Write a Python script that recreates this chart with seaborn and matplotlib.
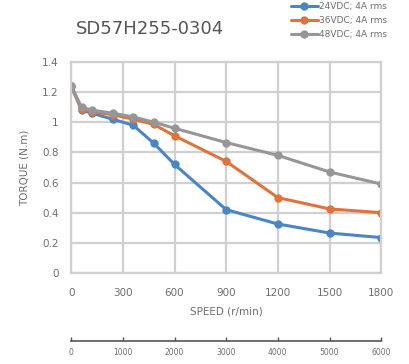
"""
Torque / speed curve for the SD57H255-0304 stepper motor.
Saves out.png (409x364 px).
"""

import numpy as np
import pandas as pd
import matplotlib
matplotlib.use("Agg")
import matplotlib.pyplot as plt
import seaborn as sns

# ── data ──────────────────────────────────────────────────────────────────────
SPEED_RPM = [0, 60, 120, 240, 360, 480, 600, 900, 1200, 1500, 1800]

TORQUE_24V = [1.24, 1.08, 1.06, 1.02, 0.98, 0.86, 0.72, 0.42, 0.325, 0.265, 0.235]
TORQUE_36V = [1.24, 1.09, 1.07, 1.05, 1.02, 0.985, 0.91, 0.74, 0.50, 0.425, 0.40]
TORQUE_48V = [1.24, 1.10, 1.08, 1.06, 1.035, 1.00, 0.96, 0.865, 0.78, 0.67, 0.59]

SERIES_LABELS = ["24VDC; 4A rms", "36VDC; 4A rms", "48VDC; 4A rms"]
X_TICKS = [0, 300, 600, 900, 1200, 1500, 1800]
Y_TICKS = [0, 0.2, 0.4, 0.6, 0.8, 1.0, 1.2, 1.4]
Y_TICK_LABELS = ["0", "0.2", "0.4", "0.6", "0.8", "1", "1.2", "1.4"]
PPS_TICKS = [0, 1000, 2000, 3000, 4000, 5000, 6000]

COLORS = ["#4a86c5", "#e0733c", "#969696"]
TEXT_GREY = "#6e6e6e"
GRID_GREY = "#d0d0d0"

# ── long table for seaborn ────────────────────────────────────────────────────
df = pd.concat(
    [
        pd.DataFrame({"speed": SPEED_RPM, "torque": vals, "series": lab})
        for vals, lab in zip([TORQUE_24V, TORQUE_36V, TORQUE_48V], SERIES_LABELS)
    ],
    ignore_index=True,
)

sns.set_style("white")
plt.rcParams["font.family"] = ["DejaVu Sans"]

fig = plt.figure(figsize=(4.09, 3.64), dpi=100)
ax = fig.add_axes([0.174, 0.25, 0.758, 0.58])

sns.lineplot(
    data=df, x="speed", y="torque", hue="series",
    palette=COLORS, marker="o", markersize=6, markeredgewidth=0,
    linewidth=2.2, dashes=False, ax=ax, legend=True, sort=False,
)

# ── axes styling ──────────────────────────────────────────────────────────────
ax.set_xlim(0, 1800)
ax.set_ylim(0, 1.4)
ax.set_xticks(X_TICKS)
ax.set_yticks(Y_TICKS)
ax.set_yticklabels(Y_TICK_LABELS)
ax.grid(True, color=GRID_GREY, linewidth=1.6)
ax.set_axisbelow(True)
for s in ax.spines.values():
    s.set_color(GRID_GREY)
    s.set_linewidth(1.6)
ax.tick_params(axis="x", length=0, labelsize=7.5, labelcolor=TEXT_GREY, pad=11)
ax.tick_params(axis="y", length=0, labelsize=7.5, labelcolor=TEXT_GREY, pad=9)

ax.set_xlabel("SPEED (r/min)", fontsize=7.5, color=TEXT_GREY, labelpad=6)
ax.set_ylabel("TORQUE (N.m)", fontsize=7.5, color=TEXT_GREY, labelpad=9)

# secondary pulse-rate axis below the plot
sec = ax.secondary_xaxis(-0.32, functions=(lambda r: r * 6000 / 1800,
                                           lambda p: p * 1800 / 6000))
sec.set_xticks(PPS_TICKS)
sec.spines["bottom"].set_color("#555555")
sec.spines["bottom"].set_linewidth(1.2)
sec.tick_params(axis="x", direction="in", length=3, width=1, color="#555555",
                labelsize=5.5, labelcolor=TEXT_GREY, pad=5)

# ── title & legend ────────────────────────────────────────────────────────────
fig.text(0.185, 0.895, "SD57H255-0304", fontsize=13, color="#555555",
         ha="left", va="bottom")

handles, labels = ax.get_legend_handles_labels()
ax.legend(
    handles, labels, loc="upper right", bbox_to_anchor=(0.955, 1.005),
    bbox_transform=fig.transFigure, frameon=False, fontsize=6.5,
    labelcolor=TEXT_GREY, handlelength=3.0, handletextpad=0.1,
    labelspacing=0.55, borderaxespad=0,
)

fig.savefig("out.png", dpi=100)
plt.close(fig)
